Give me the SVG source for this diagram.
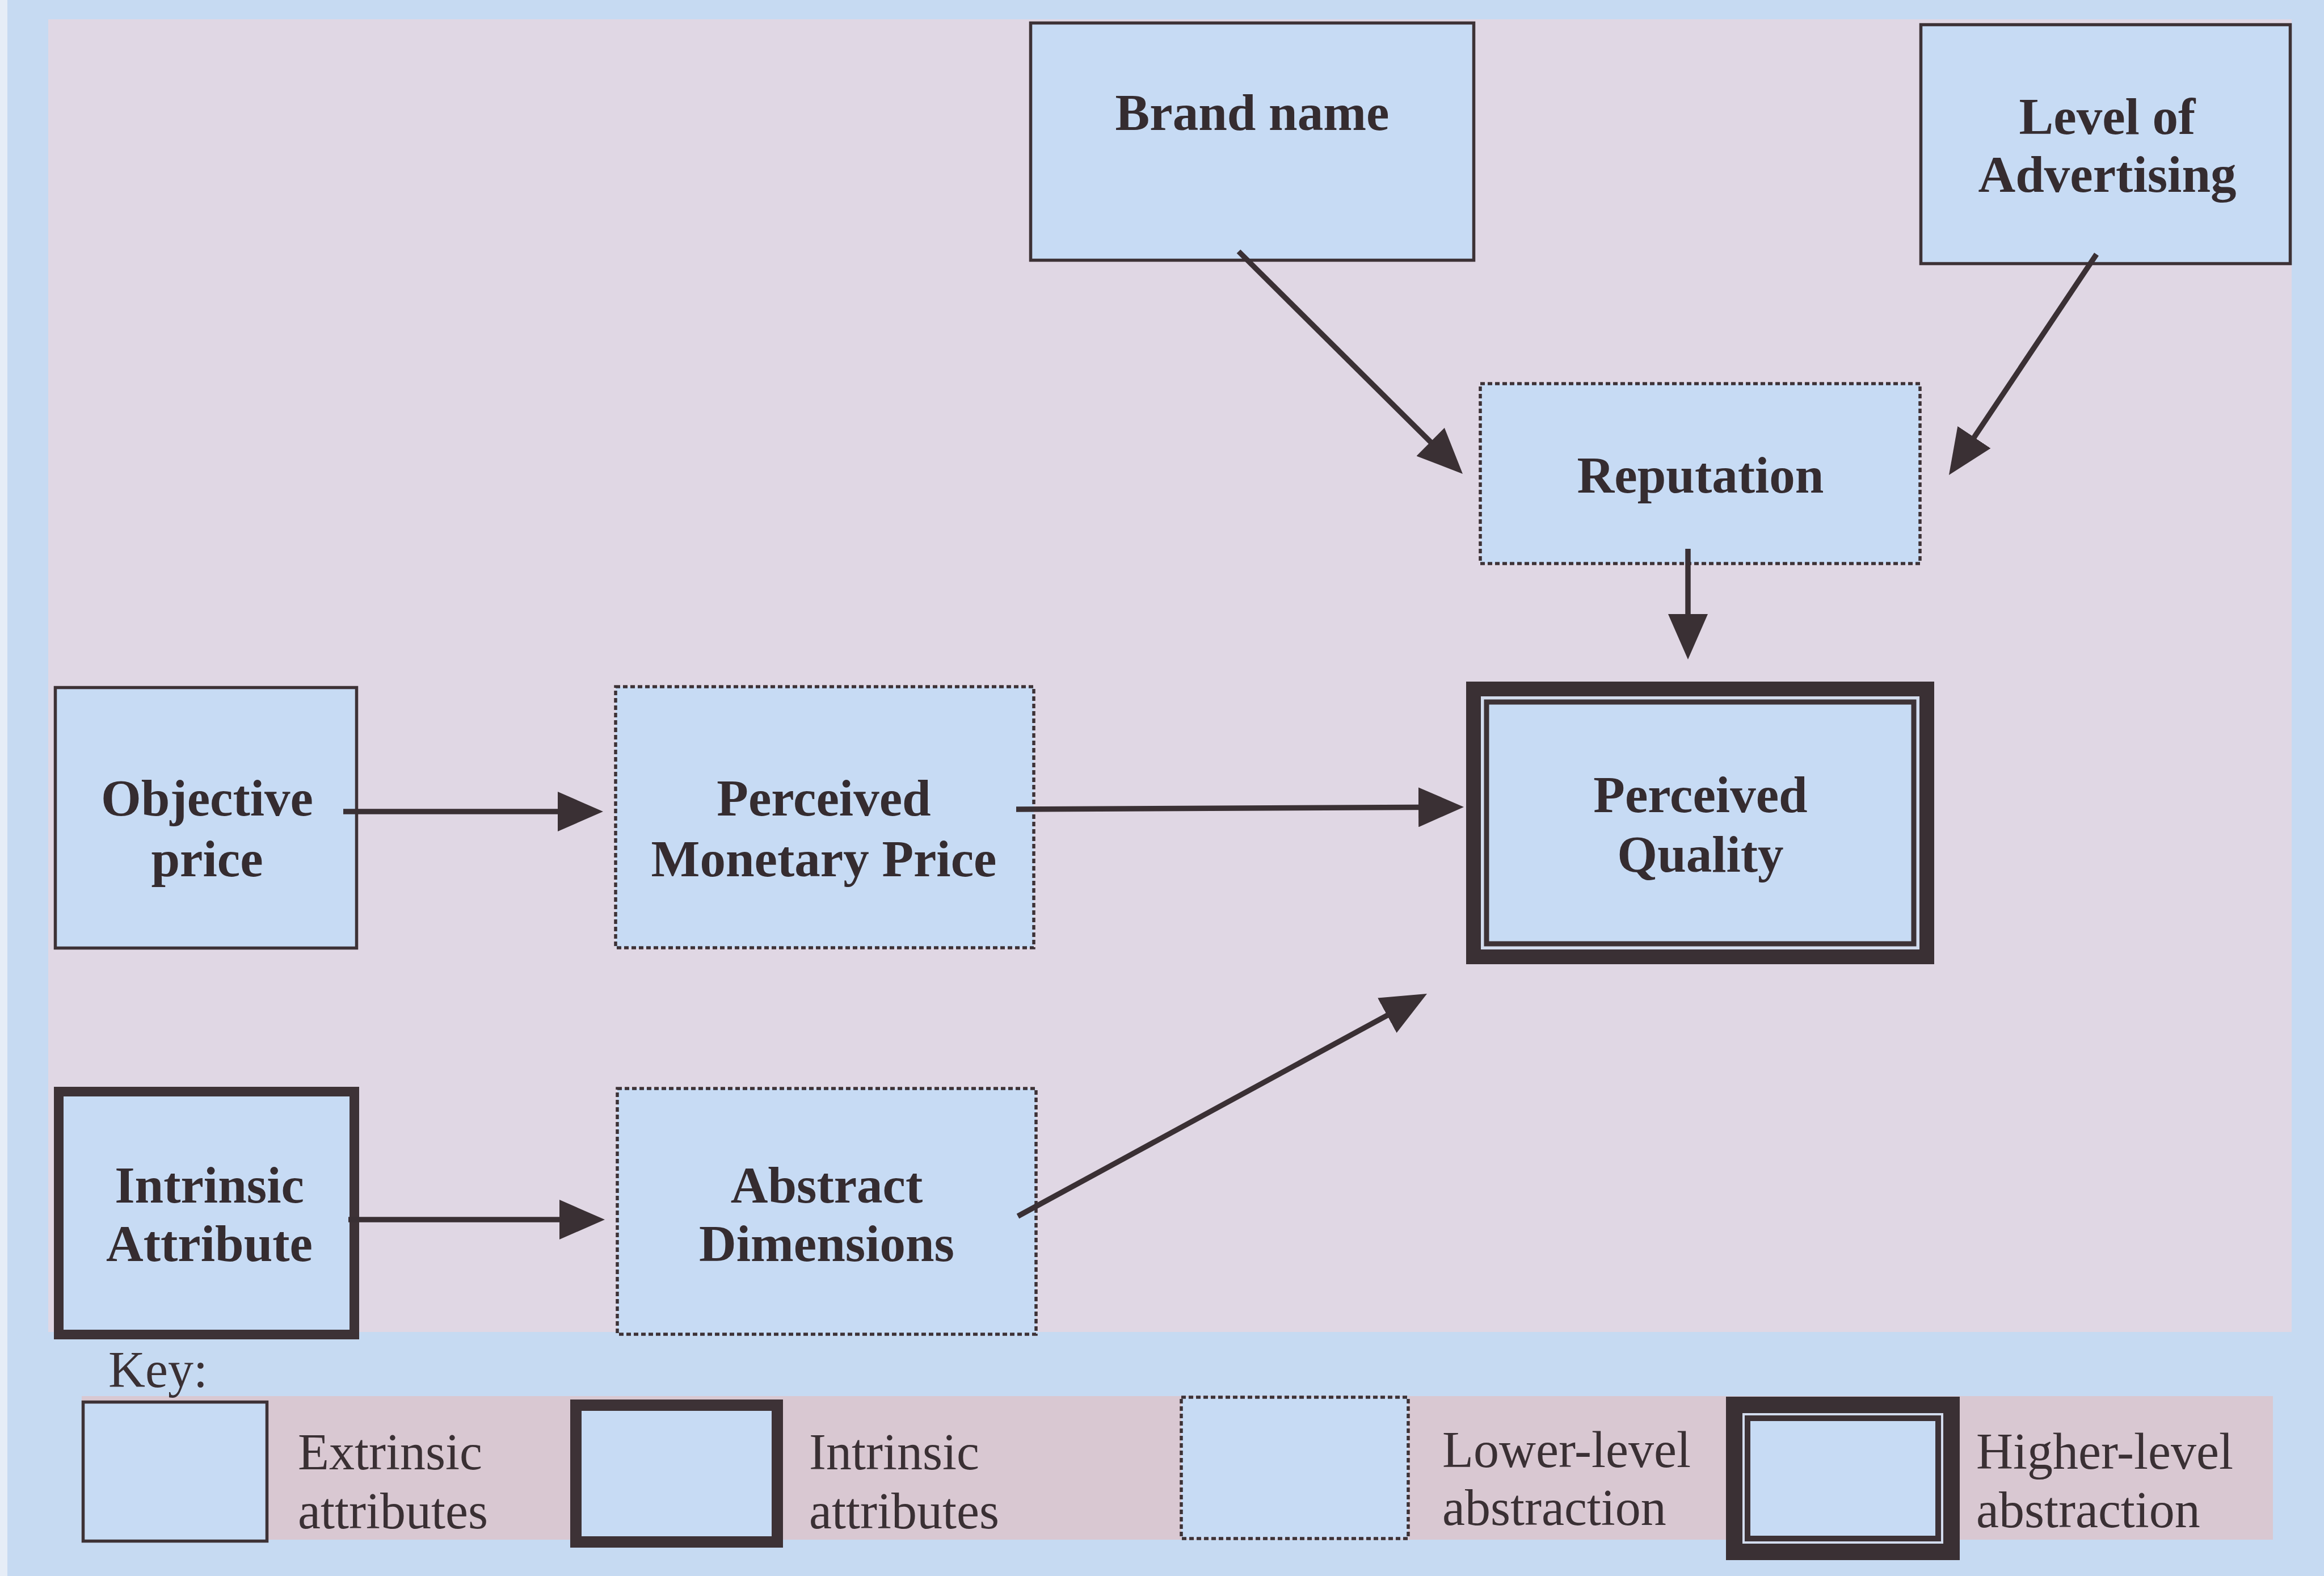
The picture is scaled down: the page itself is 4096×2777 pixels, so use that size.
<svg xmlns="http://www.w3.org/2000/svg" width="4096" height="2777" viewBox="0 0 4096 2777">
  <defs>
    <style>
      .box { fill: #c7dbf4; stroke: #3d3236; stroke-width: 5.5; }
      .dashed { fill: #c7dbf4; stroke: #3d3236; stroke-width: 5.5; stroke-dasharray: 8 5; }
      .thick { fill: #c7dbf4; stroke: #3d3236; stroke-width: 17; }
      .outer { fill: #d3dcee; stroke: #3a3034; stroke-width: 26; }
      .inner { fill: #c7dbf4; stroke: #3d3236; stroke-width: 9; }
      .label { font-family: "Liberation Serif", "Times New Roman", serif; font-weight: bold; font-size: 91px; fill: #352c30; text-anchor: middle; }
      .key { font-family: "Liberation Serif", "Times New Roman", serif; font-size: 90px; fill: #3a3034; }
      .conn { stroke: #3a3034; stroke-width: 9.5; fill: none; marker-end: url(#head); }
    </style>
    <marker id="head" markerUnits="userSpaceOnUse" markerWidth="80" markerHeight="70" refX="40" refY="35" orient="auto" viewBox="0 0 80 70">
      <path d="M0,0 L80,35 L0,70 Z" fill="#3a3034"/>
    </marker>
  </defs>

  <!-- page background -->
  <rect x="0" y="0" width="4096" height="2777" fill="#c6daf2"/>
  <rect x="0" y="0" width="13" height="2777" fill="#e6edf7"/>
  <rect x="85" y="34" width="3954" height="2313" fill="#e0d7e4"/>
  <rect x="144" y="2460" width="3862" height="253" fill="#d9c8d2"/>

  <!-- nodes -->
  <g id="brand-name">
    <rect class="box" x="1816.5" y="40.5" width="781" height="418"/>
    <text class="label" x="2207" y="229">Brand name</text>
  </g>
  <g id="level-of-advertising">
    <rect class="box" x="3385.5" y="43.5" width="651" height="421"/>
    <text class="label" x="3714" y="236">Level of</text>
    <text class="label" x="3714" y="338">Advertising</text>
  </g>
  <g id="reputation">
    <rect class="dashed" x="2609" y="676" width="775" height="317"/>
    <text class="label" x="2997" y="868">Reputation</text>
  </g>
  <g id="objective-price">
    <rect class="box" x="97.5" y="1211.5" width="531" height="459"/>
    <text class="label" x="365" y="1437">Objective</text>
    <text class="label" x="365" y="1544">price</text>
  </g>
  <g id="perceived-monetary-price">
    <rect class="dashed" x="1085" y="1210" width="737" height="460"/>
    <text class="label" x="1452" y="1437">Perceived</text>
    <text class="label" x="1452" y="1544">Monetary Price</text>
  </g>
  <g id="intrinsic-attribute">
    <rect class="thick" x="103.5" y="1923.5" width="521" height="428"/>
    <text class="label" x="369" y="2119">Intrinsic</text>
    <text class="label" x="369" y="2222">Attribute</text>
  </g>
  <g id="abstract-dimensions">
    <rect class="dashed" x="1088" y="1918" width="738" height="433"/>
    <text class="label" x="1457" y="2119">Abstract</text>
    <text class="label" x="1457" y="2222">Dimensions</text>
  </g>
  <g id="perceived-quality">
    <rect class="outer" x="2597" y="1214" width="799" height="472"/>
    <rect class="inner" x="2620" y="1237" width="753" height="426"/>
    <text class="label" x="2997" y="1431">Perceived</text>
    <text class="label" x="2997" y="1536">Quality</text>
  </g>

  <!-- connectors, drawn over the boxes they leave from -->
  <g id="connectors">
    <line class="conn" x1="2183" y1="443" x2="2549.6" y2="806.8"/>
    <line class="conn" x1="3695" y1="448" x2="3457.2" y2="803.7"/>
    <line class="conn" x1="2975" y1="967" x2="2975" y2="1122"/>
    <line class="conn" x1="605" y1="1430" x2="1023" y2="1430"/>
    <line class="conn" x1="1791" y1="1426" x2="2540" y2="1422.2"/>
    <line class="conn" x1="614" y1="2149" x2="1026" y2="2149"/>
    <line class="conn" x1="1794" y1="2143" x2="2479.9" y2="1770.1"/>
  </g>

  <!-- key -->
  <g id="key">
    <text class="key" x="191" y="2444">Key:</text>
    <rect class="box" x="146.5" y="2470.5" width="324" height="245"/>
    <text class="key" x="525" y="2589">Extrinsic</text>
    <text class="key" x="525" y="2693">attributes</text>
    <rect class="thick" style="stroke-width:20" x="1015" y="2476" width="355" height="241"/>
    <text class="key" x="1426" y="2589">Intrinsic</text>
    <text class="key" x="1426" y="2693">attributes</text>
    <rect class="dashed" x="2082" y="2462" width="400" height="249"/>
    <text class="key" x="2542" y="2585">Lower-level</text>
    <text class="key" x="2542" y="2687">abstraction</text>
    <rect class="outer" style="stroke-width:29" x="3056.5" y="2475.5" width="383" height="259"/>
    <rect class="inner" style="stroke-width:10" x="3080" y="2499" width="336" height="212"/>
    <text class="key" x="3483" y="2588">Higher-level</text>
    <text class="key" x="3483" y="2691">abstraction</text>
  </g>
</svg>
